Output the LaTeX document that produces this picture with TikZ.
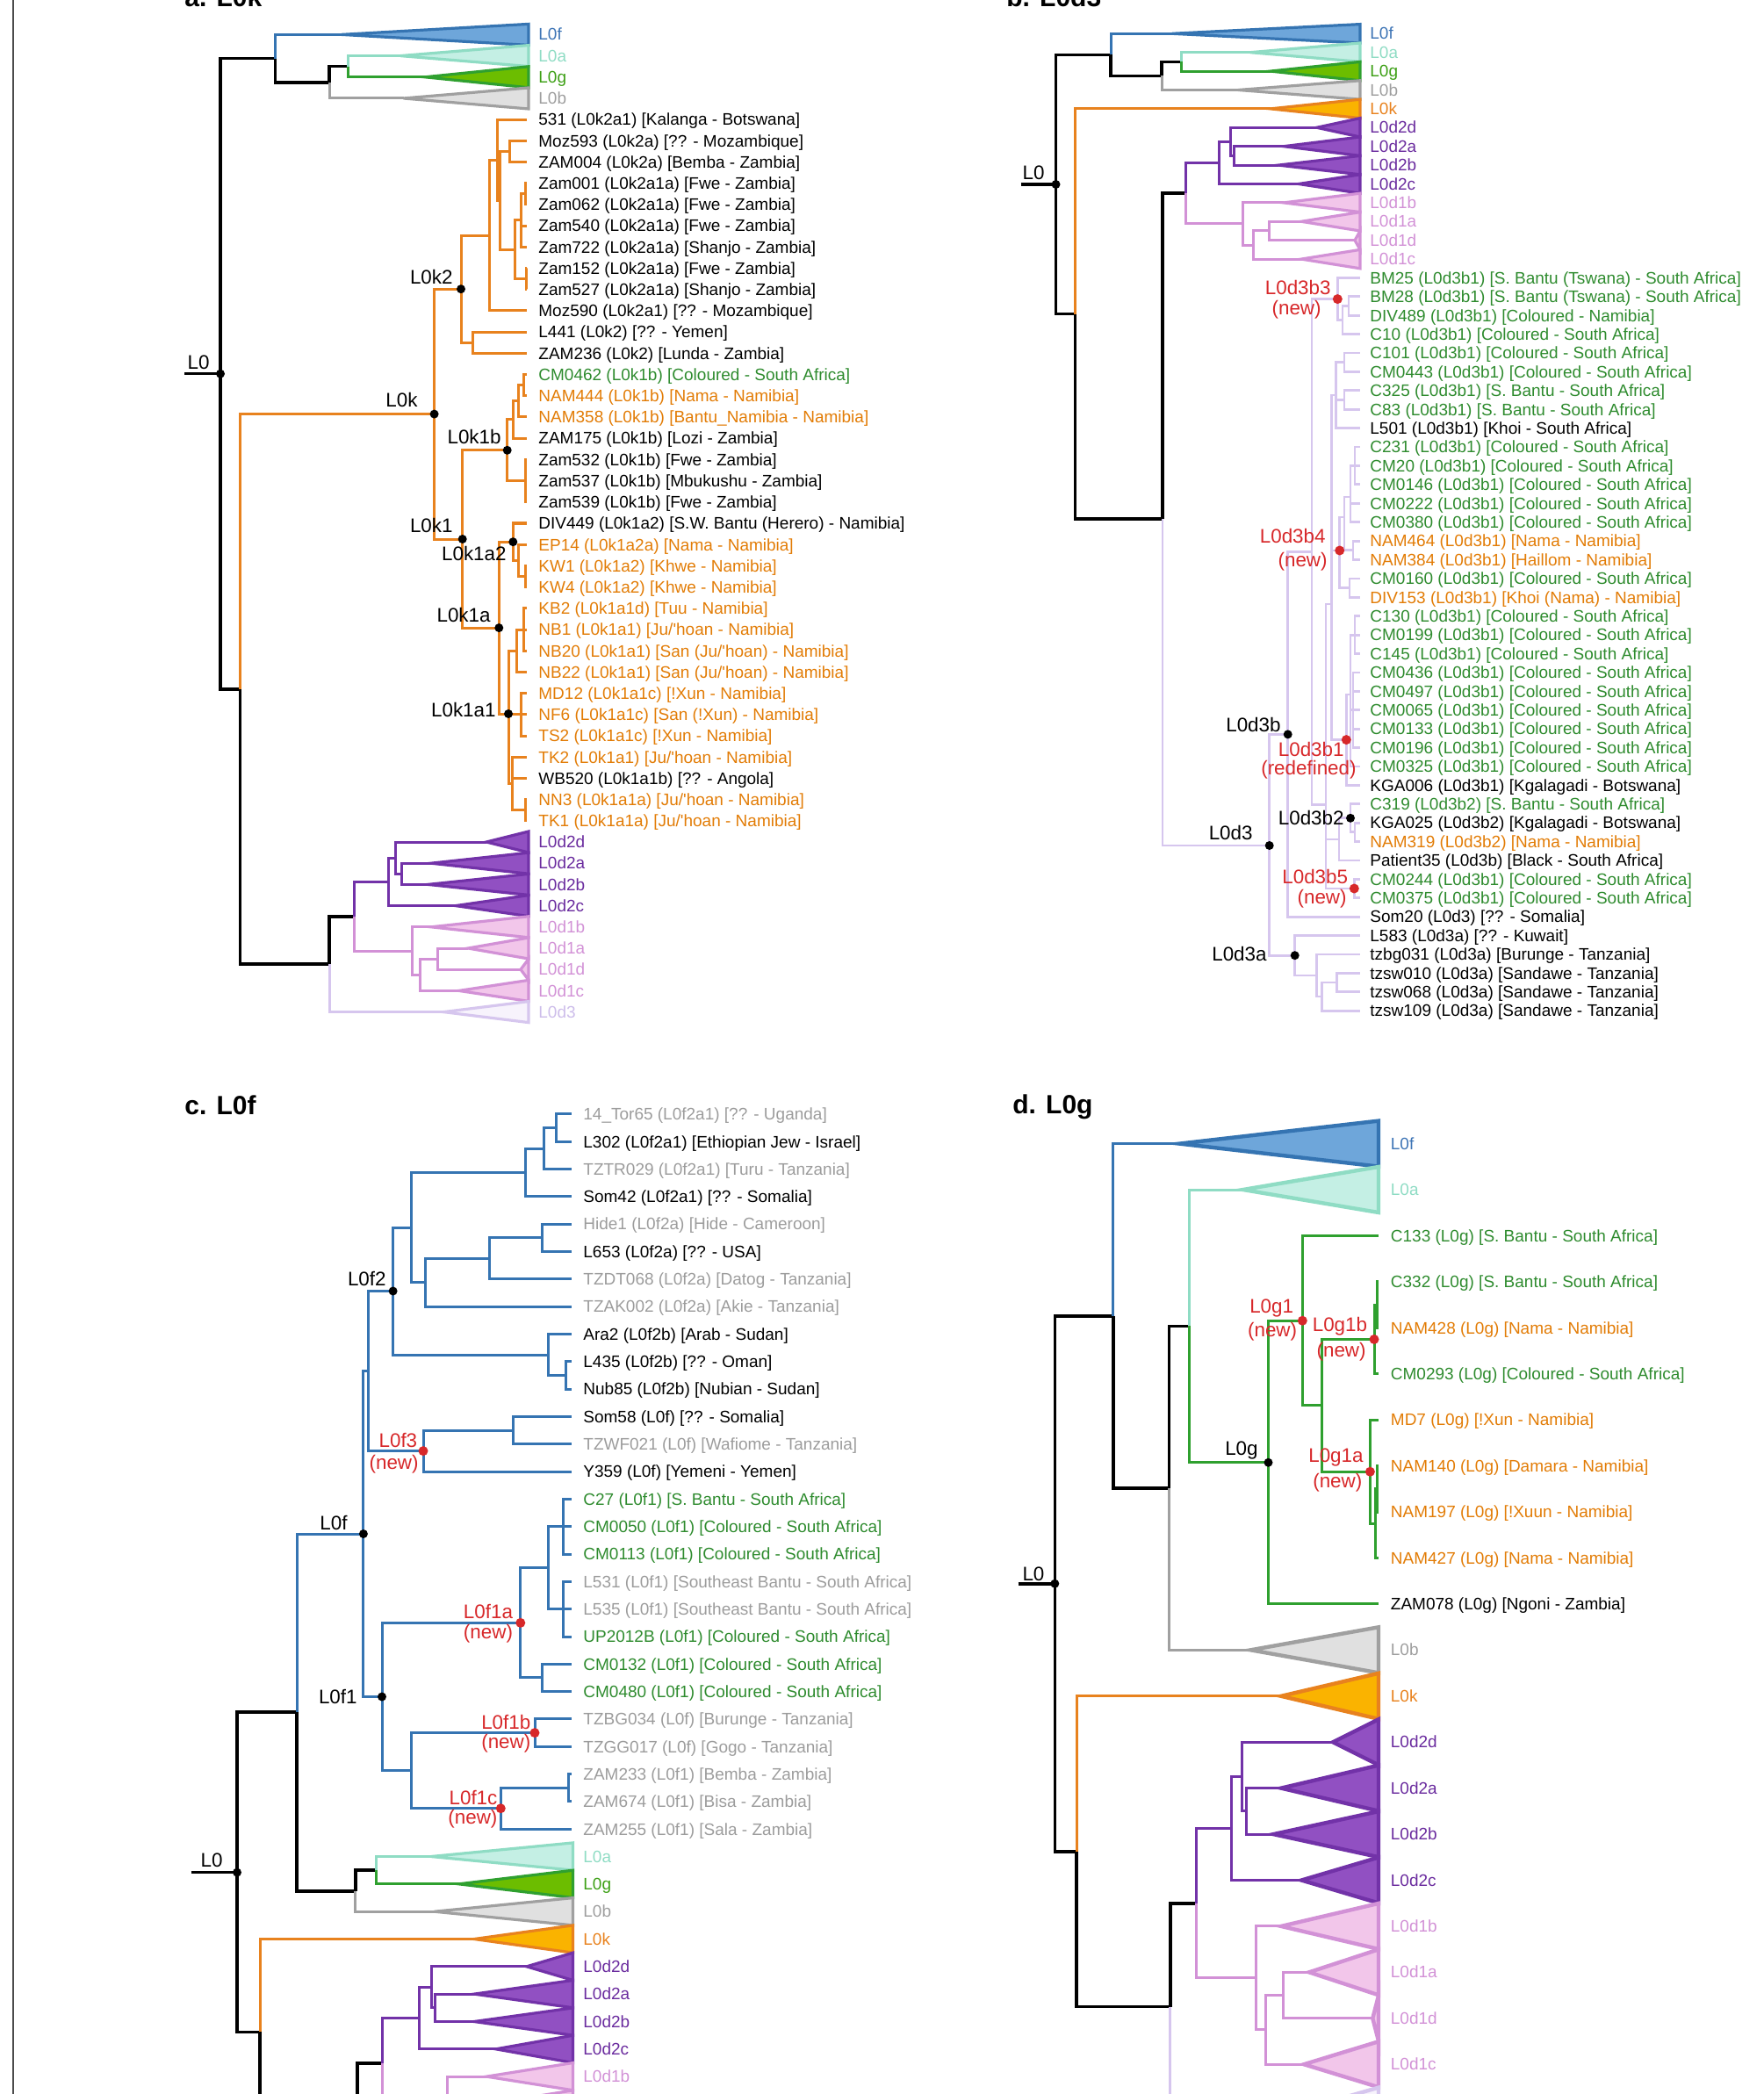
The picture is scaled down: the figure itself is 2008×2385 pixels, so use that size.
\documentclass[tikz,border=0pt]{standalone}
\usepackage{fontspec}
\setmainfont{Liberation Sans}
\usetikzlibrary{positioning}

% clade colours: ln = branch, fl = triangle fill, tx = label
\definecolor{cfln}{HTML}{3574B2}\definecolor{cffl}{HTML}{6EA6DA}\definecolor{cftx}{HTML}{3D74B5}
\definecolor{caln}{HTML}{8FDCC4}\definecolor{cafl}{HTML}{C4EFE4}\definecolor{catx}{HTML}{8FDCC4}
\definecolor{cgln}{HTML}{2FA02F}\definecolor{cgfl}{HTML}{6CBD00}\definecolor{cgtx}{HTML}{3C9F14}
\definecolor{cbln}{HTML}{A0A0A0}\definecolor{cbfl}{HTML}{E0E0E0}\definecolor{cbtx}{HTML}{9E9E9E}
\definecolor{ckln}{HTML}{E8821E}\definecolor{ckfl}{HTML}{FAB300}\definecolor{cktx}{HTML}{E8821E}
\definecolor{ctwoln}{HTML}{7232A8}\definecolor{ctwofl}{HTML}{9150C2}\definecolor{ctwotx}{HTML}{6A2B9E}
\definecolor{coneln}{HTML}{D291D6}\definecolor{conefl}{HTML}{F2C6EA}\definecolor{conetx}{HTML}{D291D6}
\definecolor{cthrln}{HTML}{D6C6EE}\definecolor{cthrfl}{HTML}{F7F3FC}\definecolor{cthrtx}{HTML}{CDBDEA}
\definecolor{tgreen}{HTML}{2E8B2E}\definecolor{torange}{HTML}{E27C06}
\definecolor{tgray}{HTML}{9C9C9C}\definecolor{tred}{HTML}{D7282A}

\newcommand{\apos}{\textquotesingle}
% collapsed clade: name, apex x, right x, y, half height, colour key, label x, text
\newcommand{\clade}[8]{%
  \coordinate (#1) at (#2,#4);
  \draw[tri, draw=#6ln, fill=#6fl] (#1) -- (#3,#4-#5) -- (#3,#4+#5) -- cycle;
  \node[tip, text=#6tx] (#1-t) at (#7,#4+6.6) {#8};}

\begin{document}
\begin{tikzpicture}[x=0.5pt, y=-0.5pt,
    brn/.style={line width=1.5pt, draw=#1},
    blk/.style={line width=1.8pt, draw=black},
    tri/.style={line width=1.6pt},
    tip/.style={anchor=base west, inner sep=0pt, font=\fontsize{9.5}{11}\selectfont},
    nl/.style={anchor=base east, inner sep=0pt, font=\fontsize{11.2}{13}\selectfont},
    rl/.style={nl, text=tred},
    dot/.style={circle, fill=black, inner sep=0pt, minimum size=5pt},
    rdot/.style={circle, fill=tred, inner sep=0pt, minimum size=5.5pt},
    ttl/.style={anchor=base west, inner sep=0pt, font=\fontsize{15}{18}\selectfont\bfseries}]
\useasboundingbox (0,0) rectangle (2008,2385);
\clip (0,0) rectangle (2008,2385);
\draw[line width=0.7pt, black!70] (15,0) -- (15,2385);

% ================= a. L0k =================
\node[ttl] (ta) at (210,8) {a. L0k};
\clade{a-L0f}{389}{602}{39.4}{12}{cf}{613}{L0f}
\clade{a-L0a}{456}{602}{63.6}{12}{ca}{613}{L0a}
\clade{a-L0g}{484}{602}{87.8}{12}{cg}{613}{L0g}
\clade{a-L0b}{459.5}{602}{112}{12}{cb}{613}{L0b}
\clade{a-L0d2d}{554}{602}{959}{12}{ctwo}{613}{L0d2d}
\clade{a-L0d2a}{491}{602}{983.2}{12}{ctwo}{613}{L0d2a}
\clade{a-L0d2b}{487.5}{602}{1007.4}{12}{ctwo}{613}{L0d2b}
\clade{a-L0d2c}{519}{602}{1031.6}{12}{ctwo}{613}{L0d2c}
\clade{a-L0d1b}{491}{602}{1055.8}{12}{cone}{613}{L0d1b}
\clade{a-L0d1a}{533}{602}{1080}{12}{cone}{613}{L0d1a}
\clade{a-L0d1d}{593}{602}{1104.2}{12}{cone}{613}{L0d1d}
\clade{a-L0d1c}{522.6}{602}{1128.4}{12}{cone}{613}{L0d1c}
\clade{a-L0d3}{505}{602}{1152.6}{12}{cthr}{613}{L0d3}

\foreach \rw/\txt/\col in {
  4/{531 (L0k2a1) [Kalanga - Botswana]}/black,
  5/{Moz593 (L0k2a) [?? - Mozambique]}/black,
  6/{ZAM004 (L0k2a) [Bemba - Zambia]}/black,
  7/{Zam001 (L0k2a1a) [Fwe - Zambia]}/black,
  8/{Zam062 (L0k2a1a) [Fwe - Zambia]}/black,
  9/{Zam540 (L0k2a1a) [Fwe - Zambia]}/black,
  10/{Zam722 (L0k2a1a) [Shanjo - Zambia]}/black,
  11/{Zam152 (L0k2a1a) [Fwe - Zambia]}/black,
  12/{Zam527 (L0k2a1a) [Shanjo - Zambia]}/black,
  13/{Moz590 (L0k2a1) [?? - Mozambique]}/black,
  14/{L441 (L0k2) [?? - Yemen]}/black,
  15/{ZAM236 (L0k2) [Lunda - Zambia]}/black,
  16/{CM0462 (L0k1b) [Coloured - South Africa]}/tgreen,
  17/{NAM444 (L0k1b) [Nama - Namibia]}/torange,
  18/{NAM358 (L0k1b) [Bantu\_Namibia - Namibia]}/torange,
  19/{ZAM175 (L0k1b) [Lozi - Zambia]}/black,
  20/{Zam532 (L0k1b) [Fwe - Zambia]}/black,
  21/{Zam537 (L0k1b) [Mbukushu - Zambia]}/black,
  22/{Zam539 (L0k1b) [Fwe - Zambia]}/black,
  23/{DIV449 (L0k1a2) [S.W. Bantu (Herero) - Namibia]}/black,
  24/{EP14 (L0k1a2a) [Nama - Namibia]}/torange,
  25/{KW1 (L0k1a2) [Khwe - Namibia]}/torange,
  26/{KW4 (L0k1a2) [Khwe - Namibia]}/torange,
  27/{KB2 (L0k1a1d) [Tuu - Namibia]}/torange,
  28/{NB1 (L0k1a1) [Ju/\apos hoan - Namibia]}/torange,
  29/{NB20 (L0k1a1) [San (Ju/\apos hoan) - Namibia]}/torange,
  30/{NB22 (L0k1a1) [San (Ju/\apos hoan) - Namibia]}/torange,
  31/{MD12 (L0k1a1c) [!Xun - Namibia]}/torange,
  32/{NF6 (L0k1a1c) [San (!Xun) - Namibia]}/torange,
  33/{TS2 (L0k1a1c) [!Xun - Namibia]}/torange,
  34/{TK2 (L0k1a1) [Ju/\apos hoan - Namibia]}/torange,
  35/{WB520 (L0k1a1b) [?? - Angola]}/black,
  36/{NN3 (L0k1a1a) [Ju/\apos hoan - Namibia]}/torange,
  37/{TK1 (L0k1a1a) [Ju/\apos hoan - Namibia]}/torange}{
  \coordinate (a\rw) at (600,{39.4+24.2*\rw});
  \node[tip, text=\col] (a\rw-t) at (613,{39.4+24.2*\rw+6.8}) {\txt};
}

\coordinate (aS) at (210,425.7);   \coordinate (aR) at (251,425.7);
\coordinate (aA) at (313.6,66.6);  \coordinate (aC) at (375,93.85);
\coordinate (aD) at (396,75.7);    \coordinate (aB) at (273.6,784.8);
\coordinate (aE) at (375,1098.15); \coordinate (aF) at (403.4,1043.7);
\coordinate (aG) at (442,1004.4);  \coordinate (aG1) at (450,977.15);
\coordinate (aG2) at (457,995.3);  \coordinate (aH) at (469,1083);
\coordinate (aH1) at (478.5,1110.25); \coordinate (aH2) at (498,1092.1);
\coordinate (ak) at (494.6,471.6);   \coordinate (ak2) at (525,329.2);
\coordinate (akA) at (557.3,268.2);  \coordinate (akB) at (566,182.3);
\coordinate (akC) at (569.3,228.4);  \coordinate (akM) at (580.5,172.5);
\coordinate (akZ) at (586.7,284.4);  \coordinate (akZ1) at (593,251);
\coordinate (akZ3) at (598,220.9);   \coordinate (akZ2) at (599,317.7);
\coordinate (akL) at (538.8,390.3);
\coordinate (ak1) at (526.7,614);    \coordinate (ak1b) at (577.7,512.8);
\coordinate (akb1) at (584,478);     \coordinate (akb3) at (590,456.85);
\coordinate (akb4) at (596,438.7);   \coordinate (akb2) at (598,547.6);
\coordinate (ak1a) at (568.3,715.1); \coordinate (ak1a2) at (584.3,617.2);
\coordinate (aka3) at (590,638.35);  \coordinate (aka4) at (598,656.5);
\coordinate (ak1a1) at (579,813);    \coordinate (akk) at (588,741.2);
\coordinate (akk1) at (596,717);     \coordinate (akm) at (593,813.8);
\coordinate (akt) at (583,892.45);   \coordinate (akn) at (598,922.7);

\draw[blk] (aS) -- (aR) (aR) |- (aA) (aA) |- (aC) (aC) |- (aD)
  (aR) |- (aB) (aB) |- (aE) (aE) |- (aF);
\draw[brn=cfln] (aA) |- (a-L0f);
\draw[brn=caln] (aD) |- (a-L0a);
\draw[brn=cgln] (aD) |- (a-L0g);
\draw[brn=cbln] (aC) |- (a-L0b);
\draw[brn=ckln] (aB) |- (ak) (ak) |- (ak2) (ak) |- (ak1)
  (ak2) |- (akA) (ak2) |- (akL) (akL) |- (a14) (akL) |- (a15)
  (akA) |- (akB) (akA) |- (a13) (akB) |- (a4) (akB) |- (akC)
  (akC) |- (akM) (akC) |- (akZ) (akM) |- (a5) (akM) |- (a6)
  (akZ) |- (akZ1) (akZ) |- (akZ2) (akZ1) |- (akZ3) (akZ1) |- (a9) (akZ1) |- (a10)
  (akZ3) |- (a7) (akZ3) |- (a8) (akZ2) |- (a11) (akZ2) |- (a12)
  (ak1) |- (ak1b) (ak1) |- (ak1a)
  (ak1b) |- (akb1) (ak1b) |- (akb2) (akb1) |- (akb3) (akb1) |- (a19)
  (akb3) |- (akb4) (akb3) |- (a18) (akb4) |- (a16) (akb4) |- (a17)
  (akb2) |- (a20) (akb2) |- (a21) (akb2) |- (a22)
  (ak1a) |- (ak1a2) (ak1a) |- (ak1a1) (ak1a2) |- (a23) (ak1a2) |- (aka3)
  (aka3) |- (a24) (aka3) |- (aka4) (aka4) |- (a25) (aka4) |- (a26)
  (ak1a1) |- (akk) (ak1a1) |- (akm) (ak1a1) |- (akt)
  (akk) |- (akk1) (akk) |- (a30) (akk1) |- (a27) (akk1) |- (a28) (akk1) |- (a29)
  (akm) |- (a31) (akm) |- (a32) (akm) |- (a33)
  (akt) |- (a34) (akt) |- (a35) (akt) |- (akn) (akn) |- (a36) (akn) |- (a37);
\draw[brn=ctwoln] (aF) |- (aG) (aG) |- (aG1) (aG) |- (a-L0d2c) (aG1) |- (a-L0d2d)
  (aG1) |- (aG2) (aG2) |- (a-L0d2a) (aG2) |- (a-L0d2b);
\draw[brn=coneln] (aF) |- (aH) (aH) |- (a-L0d1b) (aH) |- (aH1) (aH1) |- (aH2)
  (aH2) |- (a-L0d1a) (aH2) |- (a-L0d1d) (aH1) |- (a-L0d1c);
\draw[brn=cthrln] (aE) |- (a-L0d3);

\foreach \n in {aR,ak,ak2,ak1,ak1b,ak1a,ak1a2,ak1a1} \node[dot] (\n-d) at (\n) {};
\node[nl] (aR-l) at (239,421) {L0};
\node[nl] (ak-l) at (476,464) {L0k};
\node[nl] (ak2-l) at (516,324) {L0k2};
\node[nl] (ak1b-l) at (571,506) {L0k1b};
\node[nl] (ak1-l) at (516,606.5) {L0k1};
\node[nl] (ak1a2-l) at (577,639) {L0k1a2};
\node[nl] (ak1a-l) at (559,708) {L0k1a};
\node[nl] (ak1a1-l) at (565,816) {L0k1a1};

% ================= b. L0d3 =================
\node[ttl] (tb) at (1146,8) {b. L0d3};
\clade{b-L0f}{1335}{1549}{38.3}{10.7}{cf}{1560}{L0f}
\clade{b-L0a}{1424}{1549}{59.7}{10.7}{ca}{1560}{L0a}
\clade{b-L0g}{1447}{1549}{81.1}{10.7}{cg}{1560}{L0g}
\clade{b-L0b}{1410}{1549}{102.5}{10.7}{cb}{1560}{L0b}
\clade{b-L0k}{1447}{1549}{123.9}{10.7}{ck}{1560}{L0k}
\clade{b-L0d2d}{1499.6}{1549}{145.3}{10.7}{ctwo}{1560}{L0d2d}
\clade{b-L0d2a}{1462}{1549}{166.7}{10.7}{ctwo}{1560}{L0d2a}
\clade{b-L0d2b}{1456}{1549}{188.1}{10.7}{ctwo}{1560}{L0d2b}
\clade{b-L0d2c}{1479}{1549}{209.5}{10.7}{ctwo}{1560}{L0d2c}
\clade{b-L0d1b}{1462}{1549}{230.9}{10.7}{cone}{1560}{L0d1b}
\clade{b-L0d1a}{1482}{1549}{252.3}{10.7}{cone}{1560}{L0d1a}
\clade{b-L0d1d}{1543}{1549}{273.7}{10.7}{cone}{1560}{L0d1d}
\clade{b-L0d1c}{1482}{1549}{295.1}{10.7}{cone}{1560}{L0d1c}

\foreach \rw/\txt/\col in {
  13/{BM25 (L0d3b1) [S. Bantu (Tswana) - South Africa]}/tgreen,
  14/{BM28 (L0d3b1) [S. Bantu (Tswana) - South Africa]}/tgreen,
  15/{DIV489 (L0d3b1) [Coloured - Namibia]}/tgreen,
  16/{C10 (L0d3b1) [Coloured - South Africa]}/tgreen,
  17/{C101 (L0d3b1) [Coloured - South Africa]}/tgreen,
  18/{CM0443 (L0d3b1) [Coloured - South Africa]}/tgreen,
  19/{C325 (L0d3b1) [S. Bantu - South Africa]}/tgreen,
  20/{C83 (L0d3b1) [S. Bantu - South Africa]}/tgreen,
  21/{L501 (L0d3b1) [Khoi - South Africa]}/black,
  22/{C231 (L0d3b1) [Coloured - South Africa]}/tgreen,
  23/{CM20 (L0d3b1) [Coloured - South Africa]}/tgreen,
  24/{CM0146 (L0d3b1) [Coloured - South Africa]}/tgreen,
  25/{CM0222 (L0d3b1) [Coloured - South Africa]}/tgreen,
  26/{CM0380 (L0d3b1) [Coloured - South Africa]}/tgreen,
  27/{NAM464 (L0d3b1) [Nama - Namibia]}/torange,
  28/{NAM384 (L0d3b1) [Haillom - Namibia]}/torange,
  29/{CM0160 (L0d3b1) [Coloured - South Africa]}/tgreen,
  30/{DIV153 (L0d3b1) [Khoi (Nama) - Namibia]}/torange,
  31/{C130 (L0d3b1) [Coloured - South Africa]}/tgreen,
  32/{CM0199 (L0d3b1) [Coloured - South Africa]}/tgreen,
  33/{C145 (L0d3b1) [Coloured - South Africa]}/tgreen,
  34/{CM0436 (L0d3b1) [Coloured - South Africa]}/tgreen,
  35/{CM0497 (L0d3b1) [Coloured - South Africa]}/tgreen,
  36/{CM0065 (L0d3b1) [Coloured - South Africa]}/tgreen,
  37/{CM0133 (L0d3b1) [Coloured - South Africa]}/tgreen,
  38/{CM0196 (L0d3b1) [Coloured - South Africa]}/tgreen,
  39/{CM0325 (L0d3b1) [Coloured - South Africa]}/tgreen,
  40/{KGA006 (L0d3b1) [Kgalagadi - Botswana]}/black,
  41/{C319 (L0d3b2) [S. Bantu - South Africa]}/tgreen,
  42/{KGA025 (L0d3b2) [Kgalagadi - Botswana]}/black,
  43/{NAM319 (L0d3b2) [Nama - Namibia]}/torange,
  44/{Patient35 (L0d3b) [Black - South Africa]}/black,
  45/{CM0244 (L0d3b1) [Coloured - South Africa]}/tgreen,
  46/{CM0375 (L0d3b1) [Coloured - South Africa]}/tgreen,
  47/{Som20 (L0d3) [?? - Somalia]}/black,
  48/{L583 (L0d3a) [?? - Kuwait]}/black,
  49/{tzbg031 (L0d3a) [Burunge - Tanzania]}/black,
  50/{tzsw010 (L0d3a) [Sandawe - Tanzania]}/black,
  51/{tzsw068 (L0d3a) [Sandawe - Tanzania]}/black,
  52/{tzsw109 (L0d3a) [Sandawe - Tanzania]}/black}{
  \coordinate (b\rw) at (1549,{38.3+21.4*\rw});
  \node[tip, text=\col] (b\rw-t) at (1560,{38.3+21.4*\rw+6.8}) {\txt};
}

\coordinate (bS) at (1162.5,210);   \coordinate (bR) at (1202.5,210);
\coordinate (bA) at (1265,62.4);    \coordinate (bC) at (1323,86.45);
\coordinate (bD) at (1345.6,70.4);  \coordinate (bB) at (1224.5,357.6);
\coordinate (bE) at (1324,591.3);   \coordinate (bF) at (1350.7,220.2);
\coordinate (bG) at (1388.5,185.4); \coordinate (bG1) at (1401,161.35);
\coordinate (bG2) at (1405.8,177.4); \coordinate (bH) at (1415.7,254.95);
\coordinate (bH1) at (1427.2,279.05); \coordinate (bH2) at (1445.7,263);
\coordinate (bL3) at (1445.7,963);  \coordinate (bL3b) at (1466.7,836.4);
\coordinate (bL3a) at (1474.7,1088.2); \coordinate (bX) at (1494,628.7);
\coordinate (bL3b3) at (1523.3,340.6); \coordinate (bN1) at (1529,364.6);
\coordinate (bN2) at (1536,348.6);  \coordinate (bY) at (1510,916.7);
\coordinate (bT) at (1516.7,688);   \coordinate (bJ) at (1521.7,450);
\coordinate (bJ1) at (1531,412.8);  \coordinate (bJ2) at (1531,455.6);
\coordinate (bL3b4) at (1525.7,627); \coordinate (bM1) at (1531,589);
\coordinate (bM1a) at (1538,566);   \coordinate (bM1c) at (1543,530.5);
\coordinate (bM1b) at (1541,626.8); \coordinate (bM2) at (1537,669.6);
\coordinate (bL3b1) at (1533.3,842.6); \coordinate (bK) at (1538,790.9);
\coordinate (bK1) at (1543,723.1);  \coordinate (bK2) at (1541,808.7);
\coordinate (bP) at (1525,955.9);   \coordinate (bL3b2) at (1538,931.8);
\coordinate (bQ) at (1543,947.8);   \coordinate (bL3b5) at (1542.3,1012);
\coordinate (bS1) at (1499.6,1111); \coordinate (bS2) at (1505.4,1135);
\coordinate (bS3) at (1522.7,1119);

\draw[blk] (bS) -- (bR) (bR) |- (bA) (bA) |- (bC) (bC) |- (bD)
  (bR) |- (bB) (bB) |- (bE) (bE) |- (bF);
\draw[brn=cfln] (bA) |- (b-L0f);
\draw[brn=caln] (bD) |- (b-L0a);
\draw[brn=cgln] (bD) |- (b-L0g);
\draw[brn=cbln] (bC) |- (b-L0b);
\draw[brn=ckln] (bB) |- (b-L0k);
\draw[brn=ctwoln] (bF) |- (bG) (bG) |- (bG1) (bG) |- (b-L0d2c) (bG1) |- (b-L0d2d)
  (bG1) |- (bG2) (bG2) |- (b-L0d2a) (bG2) |- (b-L0d2b);
\draw[brn=coneln] (bF) |- (bH) (bH) |- (b-L0d1b) (bH) |- (bH1) (bH1) |- (bH2)
  (bH2) |- (b-L0d1a) (bH2) |- (b-L0d1d) (bH1) |- (b-L0d1c);
\draw[brn=cthrln, line width=1.4pt] (bE) |- (bL3) (bL3) |- (bL3b) (bL3) |- (bL3a)
  (bL3b) |- (bX) (bL3b) |- (b47) (bX) |- (bL3b3) (bX) |- (bY)
  (bL3b3) |- (b13) (bL3b3) |- (bN1) (bN1) |- (bN2) (bN1) |- (b16)
  (bN2) |- (b14) (bN2) |- (b15)
  (bY) |- (bT) (bY) |- (bP) (bY) |- (bL3b5)
  (bT) |- (bJ) (bT) |- (bL3b4) (bT) |- (bL3b1)
  (bJ) |- (bJ1) (bJ) |- (bJ2) (bJ) |- (b21) (bJ1) |- (b17) (bJ1) |- (b18)
  (bJ2) |- (b19) (bJ2) |- (b20)
  (bL3b4) |- (bM1) (bL3b4) |- (bM2) (bM1) |- (bM1a) (bM1) |- (bM1b)
  (bM1a) |- (bM1c) (bM1a) |- (b25) (bM1a) |- (b26)
  (bM1c) |- (b22) (bM1c) |- (b23) (bM1c) |- (b24)
  (bM1b) |- (b27) (bM1b) |- (b28) (bM2) |- (b29) (bM2) |- (b30)
  (bL3b1) |- (bK) (bL3b1) |- (b40) (bK) |- (bK1) (bK) |- (bK2) (bK) |- (b39)
  (bK1) |- (b31) (bK1) |- (b32) (bK1) |- (b33)
  (bK2) |- (b34) (bK2) |- (b35) (bK2) |- (b36) (bK2) |- (b37) (bK2) |- (b38)
  (bP) |- (bL3b2) (bP) |- (b44) (bL3b2) |- (b41) (bL3b2) |- (bQ)
  (bQ) |- (b42) (bQ) |- (b43)
  (bL3b5) |- (b45) (bL3b5) |- (b46)
  (bL3a) |- (b48) (bL3a) |- (bS1) (bS1) |- (b49) (bS1) |- (bS2)
  (bS2) |- (bS3) (bS2) |- (b52) (bS3) |- (b50) (bS3) |- (b51);

\foreach \n in {bR,bL3,bL3b,bL3a,bL3b2} \node[dot] (\n-d) at (\n) {};
\foreach \n in {bL3b3,bL3b4,bL3b1,bL3b5} \node[rdot] (\n-d) at (\n) {};
\node[nl] (bR-l) at (1190,205) {L0};
\node[nl] (bL3-l) at (1427,956) {L0d3};
\node[nl] (bL3b-l) at (1459,833) {L0d3b};
\node[nl] (bL3a-l) at (1443,1094) {L0d3a};
\node[nl] (bL3b2-l) at (1531,939) {L0d3b2};
\node[rl] (bL3b3-l) at (1516,336) {L0d3b3};
\node[rl] (bL3b3-n) at (1505,358.5) {(new)};
\node[rl] (bL3b4-l) at (1510,618) {L0d3b4};
\node[rl] (bL3b4-n) at (1512,645) {(new)};
\node[rl] (bL3b1-l) at (1531,861) {L0d3b1};
\node[rl] (bL3b1-n) at (1545,882.5) {(redefined)};
\node[rl] (bL3b5-l) at (1535.5,1006.5) {L0d3b5};
\node[rl] (bL3b5-n) at (1534,1029) {(new)};

% ================= c. L0f =================
\node[ttl] (tc) at (210,1269) {c. L0f};
\clade{c-L0a}{491}{652.4}{2114.5}{15.6}{ca}{664}{L0a}
\clade{c-L0g}{522.6}{652.4}{2145.8}{15.6}{cg}{664}{L0g}
\clade{c-L0b}{494.6}{652.4}{2177.2}{15.6}{cb}{664}{L0b}
\clade{c-L0k}{540}{652.4}{2208.5}{15.6}{ck}{664}{L0k}
\clade{c-L0d2d}{599.8}{652.4}{2239.8}{15.6}{ctwo}{664}{L0d2d}
\clade{c-L0d2a}{540}{652.4}{2271.1}{15.6}{ctwo}{664}{L0d2a}
\clade{c-L0d2b}{540}{652.4}{2302.5}{15.6}{ctwo}{664}{L0d2b}
\clade{c-L0d2c}{564.7}{652.4}{2333.8}{15.6}{ctwo}{664}{L0d2c}
\clade{c-L0d1b}{554}{652.4}{2365.1}{15.6}{cone}{664}{L0d1b}
\clade{c-L0d1a}{556}{652.4}{2396.4}{15.6}{cone}{664}{L0d1a}
\clade{c-L0d3}{540}{652.4}{2490.4}{15.6}{cthr}{664}{L0d3}

\foreach \rw/\txt/\col in {
  0/{14\_Tor65 (L0f2a1) [?? - Uganda]}/tgray,
  1/{L302 (L0f2a1) [Ethiopian Jew - Israel]}/black,
  2/{TZTR029 (L0f2a1) [Turu - Tanzania]}/tgray,
  3/{Som42 (L0f2a1) [?? - Somalia]}/black,
  4/{Hide1 (L0f2a) [Hide - Cameroon]}/tgray,
  5/{L653 (L0f2a) [?? - USA]}/black,
  6/{TZDT068 (L0f2a) [Datog - Tanzania]}/tgray,
  7/{TZAK002 (L0f2a) [Akie - Tanzania]}/tgray,
  8/{Ara2 (L0f2b) [Arab - Sudan]}/black,
  9/{L435 (L0f2b) [?? - Oman]}/black,
  10/{Nub85 (L0f2b) [Nubian - Sudan]}/black,
  11/{Som58 (L0f) [?? - Somalia]}/black,
  12/{TZWF021 (L0f) [Wafiome - Tanzania]}/tgray,
  13/{Y359 (L0f) [Yemeni - Yemen]}/black,
  14/{C27 (L0f1) [S. Bantu - South Africa]}/tgreen,
  15/{CM0050 (L0f1) [Coloured - South Africa]}/tgreen,
  16/{CM0113 (L0f1) [Coloured - South Africa]}/tgreen,
  17/{L531 (L0f1) [Southeast Bantu - South Africa]}/tgray,
  18/{L535 (L0f1) [Southeast Bantu - South Africa]}/tgray,
  19/{UP2012B (L0f1) [Coloured - South Africa]}/tgreen,
  20/{CM0132 (L0f1) [Coloured - South Africa]}/tgreen,
  21/{CM0480 (L0f1) [Coloured - South Africa]}/tgreen,
  22/{TZBG034 (L0f) [Burunge - Tanzania]}/tgray,
  23/{TZGG017 (L0f) [Gogo - Tanzania]}/tgray,
  24/{ZAM233 (L0f1) [Bemba - Zambia]}/tgray,
  25/{ZAM674 (L0f1) [Bisa - Zambia]}/tgray,
  26/{ZAM255 (L0f1) [Sala - Zambia]}/tgray}{
  \coordinate (c\rw) at (651,{1268.9+31.32*\rw});
  \node[tip, text=\col] (c\rw-t) at (664,{1268.9+31.32*\rw+6.8}) {\txt};
}

\coordinate (cS) at (217.5,2132.6);  \coordinate (cR) at (270,2132.6);
\coordinate (cA) at (338,1950.2);    \coordinate (cC) at (404.8,2153.7);
\coordinate (cD) at (428.4,2130.15); \coordinate (cB) at (296,2314.3);
\coordinate (cE) at (407,2420.1);    \coordinate (cF) at (435,2349.8);
\coordinate (cG) at (477,2298.55);   \coordinate (cG1) at (491,2263.3);
\coordinate (cG2) at (495.3,2286.8); \coordinate (cH) at (509.7,2401);
\coordinate (cL0f) at (413.9,1747);  \coordinate (cX) at (419.5,1561.4);
\coordinate (cL0f2) at (447.6,1470.5); \coordinate (cQ) at (468,1398.1);
\coordinate (cQ1) at (598.4,1335.5); \coordinate (cQ1a) at (619.4,1308);
\coordinate (cQ1b) at (633.5,1284.55); \coordinate (cQ2) at (484,1460.7);
\coordinate (cQ2a) at (557.7,1433.3); \coordinate (cQ2b) at (617.3,1409.85);
\coordinate (cAra) at (624.3,1543);  \coordinate (cLn) at (644,1566.45);
\coordinate (cL0f3) at (482,1652.6); \coordinate (cSo) at (584.4,1629.05);
\coordinate (cL0f1) at (435,1932.5); \coordinate (cL0f1a) at (592.8,1848.35);
\coordinate (cUa) at (624.3,1785.7); \coordinate (cU1) at (641,1738.7);
\coordinate (cU2) at (641,1832.7);   \coordinate (cUb) at (617.3,1910.95);
\coordinate (cT) at (468.6,2016.65); \coordinate (cL0f1b) at (609,1973.6);
\coordinate (cL0f1c) at (570.3,2059.7); \coordinate (cZ1) at (647.6,2036.25);

\draw[blk] (cS) -- (cR) (cR) |- (cA) (cA) |- (cC) (cC) |- (cD)
  (cR) |- (cB) (cB) |- (cE) (cE) |- (cF);
\draw[brn=cfln] (cA) |- (cL0f) (cL0f) |- (cX) (cL0f) |- (cL0f1)
  (cX) |- (cL0f2) (cX) |- (cL0f3) (cL0f2) |- (cQ) (cL0f2) |- (cAra)
  (cQ) |- (cQ1) (cQ) |- (cQ2) (cQ1) |- (cQ1a) (cQ1) |- (c3)
  (cQ1a) |- (cQ1b) (cQ1a) |- (c2) (cQ1b) |- (c0) (cQ1b) |- (c1)
  (cQ2) |- (cQ2a) (cQ2) |- (c7) (cQ2a) |- (cQ2b) (cQ2a) |- (c6)
  (cQ2b) |- (c4) (cQ2b) |- (c5)
  (cAra) |- (c8) (cAra) |- (cLn) (cLn) |- (c9) (cLn) |- (c10)
  (cL0f3) |- (cSo) (cL0f3) |- (c13) (cSo) |- (c11) (cSo) |- (c12)
  (cL0f1) |- (cL0f1a) (cL0f1) |- (cT) (cL0f1a) |- (cUa) (cL0f1a) |- (cUb)
  (cUa) |- (cU1) (cUa) |- (cU2) (cU1) |- (c14) (cU1) |- (c15) (cU1) |- (c16)
  (cU2) |- (c17) (cU2) |- (c18) (cU2) |- (c19) (cUb) |- (c20) (cUb) |- (c21)
  (cT) |- (cL0f1b) (cT) |- (cL0f1c) (cL0f1b) |- (c22) (cL0f1b) |- (c23)
  (cL0f1c) |- (cZ1) (cL0f1c) |- (c26) (cZ1) |- (c24) (cZ1) |- (c25);
\draw[brn=caln] (cD) |- (c-L0a);
\draw[brn=cgln] (cD) |- (c-L0g);
\draw[brn=cbln] (cC) |- (c-L0b);
\draw[brn=ckln] (cB) |- (c-L0k);
\draw[brn=ctwoln] (cF) |- (cG) (cG) |- (cG1) (cG) |- (c-L0d2c) (cG1) |- (c-L0d2d)
  (cG1) |- (cG2) (cG2) |- (c-L0d2a) (cG2) |- (c-L0d2b);
\draw[brn=coneln] (cF) |- (cH) (cH) |- (c-L0d1b) (cH) |- (c-L0d1a);
\draw[brn=cthrln] (cE) |- (c-L0d3);

\foreach \n in {cR,cL0f,cL0f2,cL0f1} \node[dot] (\n-d) at (\n) {};
\foreach \n in {cL0f3,cL0f1a,cL0f1b,cL0f1c} \node[rdot] (\n-d) at (\n) {};
\node[nl] (cR-l) at (254,2126.5) {L0};
\node[nl] (cL0f-l) at (396,1742.6) {L0f};
\node[nl] (cL0f2-l) at (440,1464.8) {L0f2};
\node[nl] (cL0f1-l) at (407,1940) {L0f1};
\node[rl] (cL0f3-l) at (475.6,1648) {L0f3};
\node[rl] (cL0f3-n) at (477,1673) {(new)};
\node[rl] (cL0f1a-l) at (584.4,1843.5) {L0f1a};
\node[rl] (cL0f1a-n) at (584.4,1866) {(new)};
\node[rl] (cL0f1b-l) at (604.7,1969.5) {L0f1b};
\node[rl] (cL0f1b-n) at (604.7,1991) {(new)};
\node[rl] (cL0f1c-l) at (566.8,2055) {L0f1c};
\node[rl] (cL0f1c-n) at (566.8,2077) {(new)};

% ================= d. L0g =================
\node[ttl] (td) at (1153,1268) {d. L0g};
\begin{scope}[tri/.style={line width=2.2pt}]
\clade{d-L0f}{1343.2}{1570}{1302.6}{26}{cf}{1583.5}{L0f}
\clade{d-L0a}{1415.6}{1570}{1355}{26}{ca}{1583.5}{L0a}
\clade{d-L0b}{1424.3}{1570}{1879.3}{26}{cb}{1583.5}{L0b}
\clade{d-L0k}{1459}{1570}{1931.8}{26}{ck}{1583.5}{L0k}
\clade{d-L0d2d}{1518}{1570}{1984.2}{26}{ctwo}{1583.5}{L0d2d}
\clade{d-L0d2a}{1459}{1570}{2036.6}{26}{ctwo}{1583.5}{L0d2a}
\clade{d-L0d2b}{1450.3}{1570}{2089.1}{26}{ctwo}{1583.5}{L0d2b}
\clade{d-L0d2c}{1482.2}{1570}{2141.5}{26}{ctwo}{1583.5}{L0d2c}
\clade{d-L0d1b}{1459}{1570}{2193.9}{26}{cone}{1583.5}{L0d1b}
\clade{d-L0d1a}{1490.9}{1570}{2246.3}{26}{cone}{1583.5}{L0d1a}
\clade{d-L0d1d}{1563.3}{1570}{2298.8}{26}{cone}{1583.5}{L0d1d}
\clade{d-L0d1c}{1485}{1570}{2351.2}{26}{cone}{1583.5}{L0d1c}
\clade{d-L0d3}{1480}{1570}{2403.6}{26}{cthr}{1583.5}{L0d3}
\end{scope}

\foreach \rw/\txt/\col in {
  2/{C133 (L0g) [S. Bantu - South Africa]}/tgreen,
  3/{C332 (L0g) [S. Bantu - South Africa]}/tgreen,
  4/{NAM428 (L0g) [Nama - Namibia]}/torange,
  5/{CM0293 (L0g) [Coloured - South Africa]}/tgreen,
  6/{MD7 (L0g) [!Xun - Namibia]}/torange,
  7/{NAM140 (L0g) [Damara - Namibia]}/torange,
  8/{NAM197 (L0g) [!Xuun - Namibia]}/torange,
  9/{NAM427 (L0g) [Nama - Namibia]}/torange,
  10/{ZAM078 (L0g) [Ngoni - Zambia]}/black}{
  \coordinate (d\rw) at (1570,{1302.6+52.43*\rw});
  \node[tip, text=\col] (d\rw-t) at (1583.5,{1302.6+52.43*\rw+6.8}) {\txt};
}

\coordinate (dS) at (1159.6,1803.7);   \coordinate (dR) at (1201.3,1803.7);
\coordinate (dA) at (1267.9,1498.7);   \coordinate (dC) at (1331.6,1694.85);
\coordinate (dD) at (1354.7,1510.4);   \coordinate (dL0g) at (1444.5,1665.75);
\coordinate (dL0g1) at (1483.3,1504.2); \coordinate (dN) at (1505.4,1600.8);
\coordinate (dL0g1b) at (1565,1525.45); \coordinate (dNb) at (1568,1486.1);
\coordinate (dL0g1a) at (1560.4,1676.2); \coordinate (dNa) at (1566.5,1735.2);
\coordinate (dNa1) at (1568.5,1695.85); \coordinate (dB) at (1226.2,2108.7);
\coordinate (dE) at (1332.8,2285.65);  \coordinate (dF) at (1362.3,2167.7);
\coordinate (dG) at (1402.3,2082.5);   \coordinate (dG1) at (1414.4,2023.5);
\coordinate (dG2) at (1419,2062.85);   \coordinate (dH) at (1430,2252.9);
\coordinate (dH1) at (1441.6,2311.9);  \coordinate (dH2) at (1461.9,2272.55);

\draw[blk] (dS) -- (dR) (dR) |- (dA) (dA) |- (dC) (dC) |- (dD)
  (dR) |- (dB) (dB) |- (dE) (dE) |- (dF);
\draw[brn=cfln] (dA) |- (d-L0f);
\draw[brn=caln] (dD) |- (d-L0a);
\draw[brn=cbln] (dC) |- (d-L0b);
\draw[brn=ckln] (dB) |- (d-L0k);
\draw[brn=cgln] (dD) |- (dL0g) (dL0g) |- (dL0g1) (dL0g) |- (d10)
  (dL0g1) |- (d2) (dL0g1) |- (dN) (dN) |- (dL0g1b) (dN) |- (dL0g1a)
  (dL0g1b) |- (dNb) (dL0g1b) |- (d5) (dNb) |- (d3) (dNb) |- (d4)
  (dL0g1a) |- (d6) (dL0g1a) |- (dNa) (dNa) |- (dNa1) (dNa) |- (d9)
  (dNa1) |- (d7) (dNa1) |- (d8);
\draw[brn=ctwoln] (dF) |- (dG) (dG) |- (dG1) (dG) |- (d-L0d2c) (dG1) |- (d-L0d2d)
  (dG1) |- (dG2) (dG2) |- (d-L0d2a) (dG2) |- (d-L0d2b);
\draw[brn=coneln] (dF) |- (dH) (dH) |- (d-L0d1b) (dH) |- (dH1) (dH1) |- (dH2)
  (dH2) |- (d-L0d1a) (dH2) |- (d-L0d1d) (dH1) |- (d-L0d1c);
\draw[brn=cthrln] (dE) |- (d-L0d3);

\foreach \n in {dR,dL0g} \node[dot] (\n-d) at (\n) {};
\foreach \n in {dL0g1,dL0g1b,dL0g1a} \node[rdot] (\n-d) at (\n) {};
\node[nl] (dR-l) at (1189.8,1800) {L0};
\node[nl] (dL0g-l) at (1433,1657) {L0g};
\node[rl] (dL0g1-l) at (1473.5,1495.5) {L0g1};
\node[rl] (dL0g1-n) at (1477.5,1522) {(new)};
\node[rl] (dL0g1b-l) at (1557.5,1516.5) {L0g1b};
\node[rl] (dL0g1b-n) at (1556,1545) {(new)};
\node[rl] (dL0g1a-l) at (1553,1665.5) {L0g1a};
\node[rl] (dL0g1a-n) at (1551.7,1694) {(new)};
\end{tikzpicture}
\end{document}
